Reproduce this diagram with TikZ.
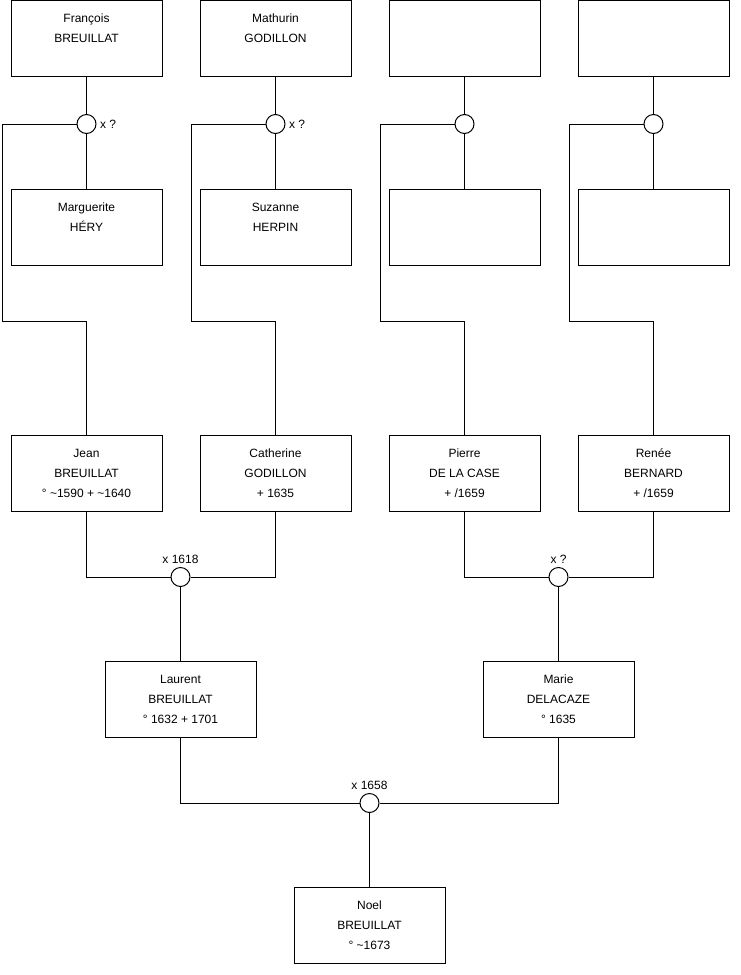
\documentclass[tikz,border=0pt]{standalone}
\usepackage{fontspec}
\setmainfont{Liberation Sans}

\begin{document}
\begin{tikzpicture}[x=1pt,y=-1pt,line width=1pt,
    person/.style={draw,rectangle,minimum width=151pt,minimum height=76pt,inner sep=0pt,align=center,font=\fontsize{12}{20}\selectfont},
    union/.style={draw,circle,minimum size=19pt,inner sep=0pt,fill=white},
    every label/.style={font=\fontsize{12}{14}\selectfont,inner sep=2pt},
    label distance=1pt]
    \useasboundingbox (0,0) rectangle (740,975);
    % great-grandparents
    \node[person] (francois) at (86.5,38.5) {François\\BREUILLAT\\~};
    \node[person] (mathurin) at (275.5,38.5) {Mathurin\\GODILLON\\~};
    \node[person] (pere3) at (464.5,38.5) {};
    \node[person] (pere4) at (653.5,38.5) {};
    \node[union,label=right:x ?] (u1) at (86.5,124) {};
    \node[union,label=right:x ?] (u2) at (275.5,124) {};
    \node[union] (u3) at (464.5,124) {};
    \node[union] (u4) at (653.5,124) {};
    \node[person] (marguerite) at (86.5,227) {Marguerite\\HÉRY\\~};
    \node[person] (suzanne) at (275.5,227) {Suzanne\\HERPIN\\~};
    \node[person] (mere3) at (464.5,227) {};
    \node[person] (mere4) at (653.5,227) {};
    % grandparents
    \node[person] (jean) at (86.5,473) {Jean\\BREUILLAT\\° \textasciitilde1590 + \textasciitilde1640};
    \node[person] (catherine) at (275.5,473) {Catherine\\GODILLON\\+ 1635};
    \node[person] (pierre) at (464.5,473) {Pierre\\DE LA CASE\\+ /1659};
    \node[person] (renee) at (653.5,473) {Renée\\BERNARD\\+ /1659};
    \node[union,label=above:x 1618] (m1) at (180.5,577) {};
    \node[union,label=above:x ?] (m2) at (558.5,577) {};
    % parents
    \node[person] (laurent) at (180.5,699) {Laurent\\BREUILLAT\\° 1632 + 1701};
    \node[person] (marie) at (558.5,699) {Marie\\DELACAZE\\° 1635};
    \node[union,label=above:x 1658] (m3) at (369.5,803) {};
    \node[person] (noel) at (369.5,925) {Noel\\BREUILLAT\\° \textasciitilde1673};

    \coordinate (k1) at (2,321);
    \coordinate (k2) at (191,321);
    \coordinate (k3) at (380,321);
    \coordinate (k4) at (569,321);

    \draw (francois) -- (u1);
    \draw (u1) -- (marguerite);
    \draw (u1.west) -| (k1) -| (jean.north);
    \draw (mathurin) -- (u2);
    \draw (u2) -- (suzanne);
    \draw (u2.west) -| (k2) -| (catherine.north);
    \draw (pere3) -- (u3);
    \draw (u3) -- (mere3);
    \draw (u3.west) -| (k3) -| (pierre.north);
    \draw (pere4) -- (u4);
    \draw (u4) -- (mere4);
    \draw (u4.west) -| (k4) -| (renee.north);

    \draw (jean.south) |- (m1.west);
    \draw (catherine.south) |- (m1.east);
    \draw (m1) -- (laurent);
    \draw (pierre.south) |- (m2.west);
    \draw (renee.south) |- (m2.east);
    \draw (m2) -- (marie);

    \draw (laurent.south) |- (m3.west);
    \draw (marie.south) |- (m3.east);
    \draw (m3) -- (noel);
\end{tikzpicture}
\end{document}
